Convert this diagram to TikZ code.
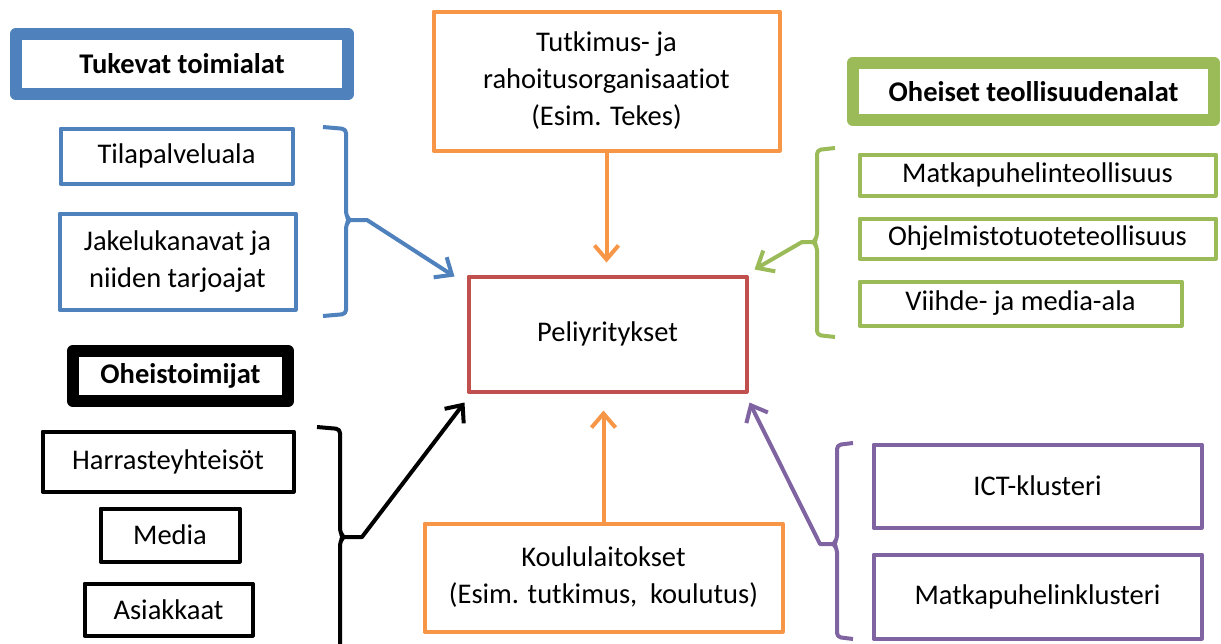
\documentclass[tikz,border=0pt]{standalone}
\usepackage{fontspec}
\setmainfont{Carlito}[Ligatures=NoCommon]
\usetikzlibrary{arrows.meta}

\definecolor{cblue}{HTML}{4F81BD}
\definecolor{cgreen}{HTML}{9BBB59}
\definecolor{corange}{HTML}{F79646}
\definecolor{cred}{HTML}{C0504D}
\definecolor{cpurple}{HTML}{8064A2}
\newcommand{\boxfont}{\fontsize{14.25}{18.5}\selectfont}

\begin{document}
\begin{tikzpicture}[x=0.5pt,y=-0.5pt,line join=round,
  box/.style={draw,line width=2pt,inner sep=0pt,align=center,font=\boxfont},
  headbox/.style={draw,line width=6.25pt,inner sep=0pt,font=\boxfont\bfseries},
  link/.style={-{Straight Barb[length=7pt,width=12pt]},line width=2pt,line cap=round},
  brace/.style={line width=2pt,rounded corners=2pt}]
  \clip (0,0) rectangle (1221,643);
  % centre: the game companies
  \node[box,draw=cred,minimum width=139pt,minimum height=57.5pt] (peli) at (607.5,334) {Peliyritykset};
  % orange: research, funding and schools
  \node[box,draw=corange,minimum width=173pt,minimum height=69.5pt] (tutk) at (606.5,81)
    {Tutkimus- ja\\rahoitusorganisaatiot\\(Esim. Tekes)};
  \node[box,draw=corange,minimum width=179pt,minimum height=54pt] (koulu) at (603.5,577.5)
    {Koululaitokset\\(Esim. tutkimus,\ \ koulutus)};
  \draw[link,corange,shorten >=6pt] (tutk.south) -- (tutk.south |- peli.north);
  \draw[link,corange,shorten >=8.5pt] (koulu.north) -- (koulu.north |- peli.south);
  % blue: supporting branches (upper left)
  \begin{scope}[every node/.append style={draw=cblue}]
    \node[headbox,minimum width=166pt,minimum height=30pt] (tuk) at (182,64) {Tukevat toimialat};
    \node[box,minimum width=116pt,minimum height=27.5pt] (tila) at (176.5,156) {Tilapalveluala};
    \node[box,minimum width=118pt,minimum height=48pt] (jake) at (177.5,261.5) {Jakelukanavat ja\\niiden tarjoajat};
  \end{scope}
  \draw[brace,cblue] (323,127) -- (346,129) -- (346,216) -- (350,220) -- (346,224) -- (346,314) -- (323,316);
  \coordinate (tukbr) at (349,220);
  \draw[link,cblue] (tukbr) -- (367,220) -- ([xshift=-6pt,yshift=-1pt]peli.north west);
  % black: other actors (lower left)
  \node[headbox,minimum width=107.5pt,minimum height=25pt] (ohei) at (180.5,376) {Oheistoimijat};
  \node[box,minimum width=125.5pt,minimum height=30pt] (harr) at (168,461.5) {Harrasteyhteisöt};
  \node[box,minimum width=69.5pt,minimum height=26.5pt] (media) at (170,535) {Media};
  \node[box,minimum width=84pt,minimum height=26pt] (asia) at (168.5,609.5) {Asiakkaat};
  \draw[brace] (317,427) -- (340,429) -- (340,533) -- (344,537) -- (340,541) -- (340,660);
  \coordinate (ohbr) at (343,537);
  \draw[link] (ohbr) -- (362,537) -- ([xshift=-1pt,yshift=-4.5pt]peli.south west);
  % green: related industries (upper right)
  \begin{scope}[every node/.append style={draw=cgreen}]
    \node[headbox,minimum width=180.5pt,minimum height=28.5pt] (oteol) at (1033.5,91.5) {Oheiset teollisuudenalat};
    \node[box,minimum width=178pt,minimum height=20.5pt] (matk) at (1037.5,175) {Matkapuhelinteollisuus};
    \node[box,minimum width=178pt,minimum height=20pt] (ohjel) at (1037.5,238.5) {Ohjelmistotuoteteollisuus};
    \node[box,minimum width=161pt,minimum height=22pt] (viih) at (1020.5,303.5) {Viihde- ja media-ala};
  \end{scope}
  \draw[brace,cgreen] (835,148) -- (817,150) -- (817,238) -- (813,242) -- (817,246) -- (817,335) -- (835,337);
  \coordinate (grbr) at (814,242);
  \draw[link,cgreen] (grbr) -- (802,242) -- ([xshift=3pt,yshift=2.5pt]peli.north east);
  % purple: clusters (lower right)
  \begin{scope}[every node/.append style={draw=cpurple}]
    \node[box,minimum width=164pt,minimum height=41.5pt] (ict) at (1037.5,486) {ICT-klusteri};
    \node[box,minimum width=164pt,minimum height=42pt] (mklus) at (1037.5,596.5) {Matkapuhelinklusteri};
  \end{scope}
  \draw[brace,cpurple] (853,443) -- (837,445) -- (837,540) -- (833,544) -- (837,548) -- (837,637) -- (853,639);
  \coordinate (clbr) at (834,544);
  \draw[link,cpurple] (clbr) -- (820,544) -- ([xshift=0.5pt,yshift=-4.5pt]peli.south east);
\end{tikzpicture}
\end{document}
